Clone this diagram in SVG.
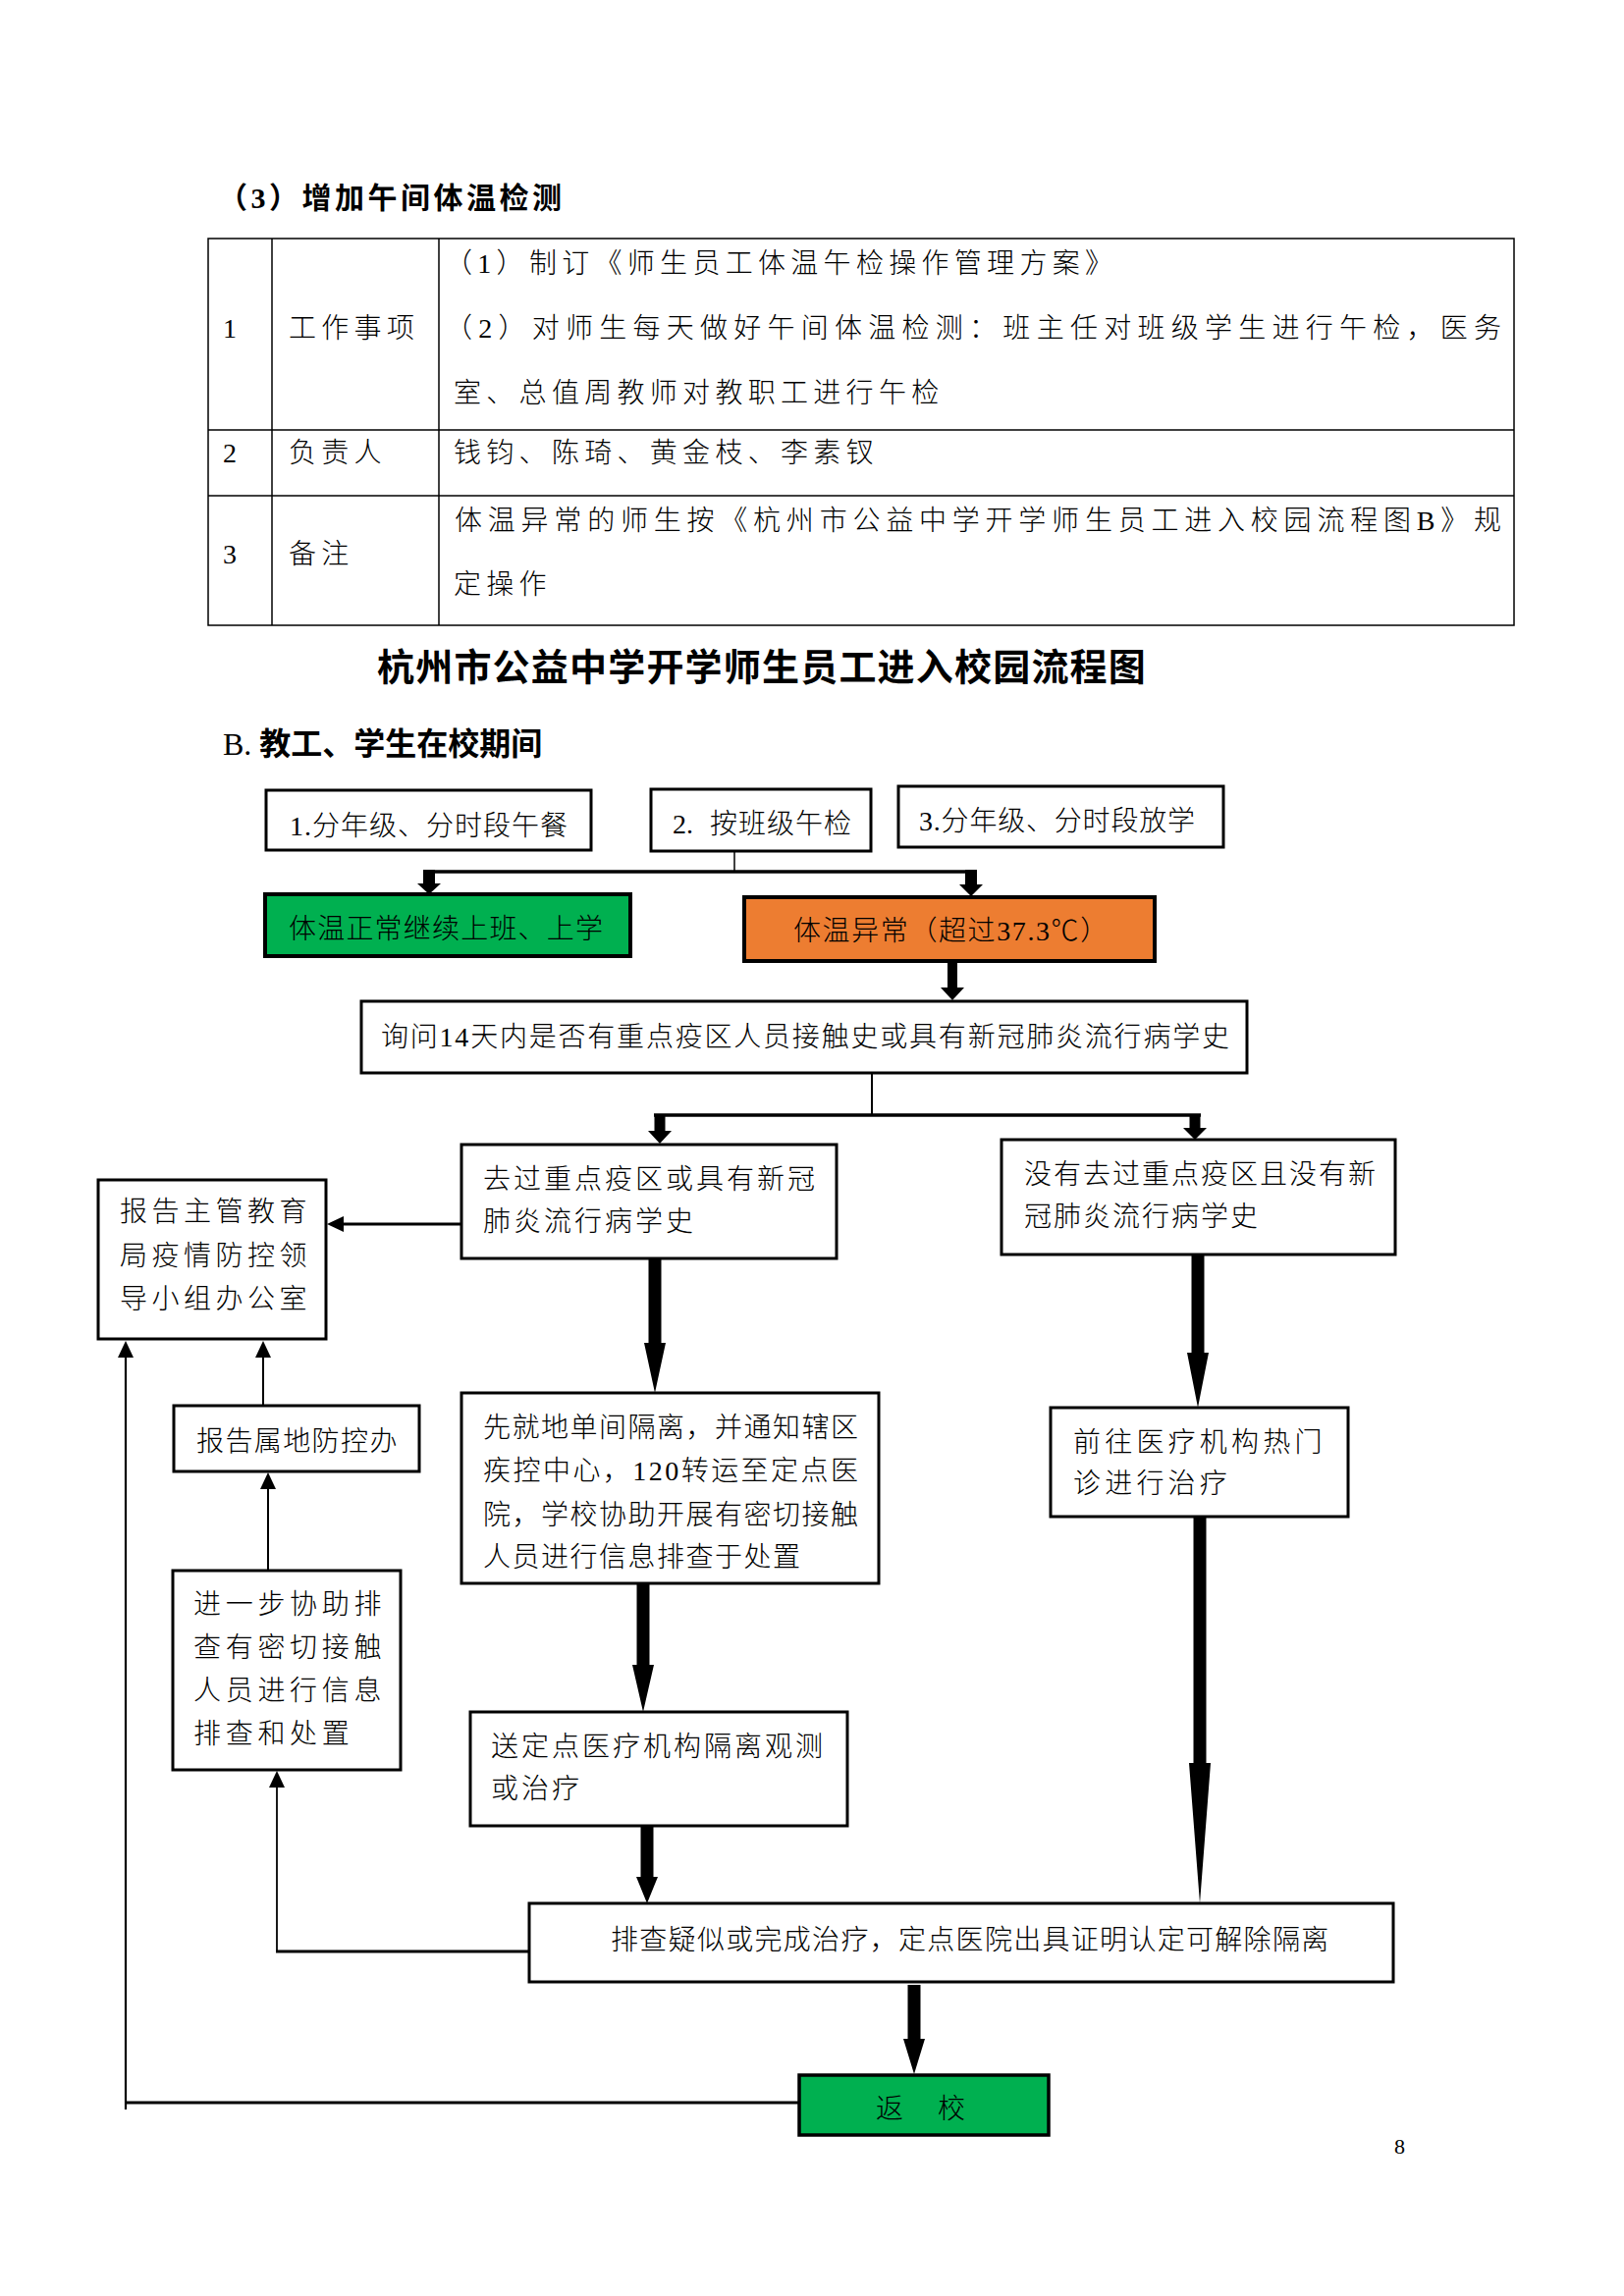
<svg xmlns="http://www.w3.org/2000/svg" width="1654" height="2339" viewBox="0 0 1654 2339">
<style>
.t{font-family:"Liberation Serif","Noto Sans CJK SC",serif;font-size:28px;font-weight:300;fill:#000}
.tb{font-family:"Liberation Serif","Noto Sans CJK SC",serif;font-size:28px;font-weight:300;fill:#000;letter-spacing:5.3px}
.h{font-family:"Liberation Serif","Noto Sans CJK SC",serif;font-weight:bold;fill:#000}
.box{fill:#fff;stroke:#000;stroke-width:3}
.ln{stroke:#000;fill:none}
.ah{fill:#000;stroke:none}
.grid{stroke:#000;stroke-width:1.5;fill:none}
</style>
<rect x="0" y="0" width="1654" height="2339" fill="#fff"/>

<text class="h" x="222" y="212" font-size="30" letter-spacing="3.5">（3）增加午间体温检测</text>

<g id="table">
<rect class="grid" x="212" y="243" width="1330" height="394"/>
<line class="grid" x1="212" y1="438" x2="1542" y2="438"/>
<line class="grid" x1="212" y1="505" x2="1542" y2="505"/>
<line class="grid" x1="277" y1="243" x2="277" y2="637"/>
<line class="grid" x1="447" y1="243" x2="447" y2="637"/>
<text class="tb" x="227" y="344">1</text>
<text class="tb" x="294" y="344">工作事项</text>
<text class="tb" x="453" y="278" letter-spacing="5.8">（1）制订《师生员工体温午检操作管理方案》</text>
<text class="t" x="453" y="344" textLength="1076" lengthAdjust="spacing">（2）对师生每天做好午间体温检测：班主任对班级学生进行午检，医务</text>
<text class="tb" x="462" y="410">室、总值周教师对教职工进行午检</text>
<text class="tb" x="227" y="471">2</text>
<text class="tb" x="294" y="471">负责人</text>
<text class="tb" x="462" y="471">钱钧、陈琦、黄金枝、李素钗</text>
<text class="tb" x="227" y="574">3</text>
<text class="tb" x="294" y="574">备注</text>
<text class="t" x="463" y="540" textLength="1066" lengthAdjust="spacing">体温异常的师生按《杭州市公益中学开学师生员工进入校园流程图B》规</text>
<text class="tb" x="462" y="605">定操作</text>
</g>

<text class="h" x="384" y="693" font-size="38" letter-spacing="1.2">杭州市公益中学开学师生员工进入校园流程图</text>
<text class="h" x="227" y="769" font-size="32"><tspan font-weight="normal">B. </tspan>教工、学生在校期间</text>

<g id="connectors">
<line class="ln" x1="748" y1="867" x2="748" y2="888" stroke-width="1.5"/>
<line class="ln" x1="431" y1="888" x2="995" y2="888" stroke-width="3.5"/>
<polygon class="ah" points="431,886 443,886 443,900 449,900 437,911 425,900 431,900"/>
<polygon class="ah" points="983,886 995,886 995,901 1001,901 989,913 977,901 983,901"/>
<polygon class="ah" points="965,979 975,979 975,1006 982,1006 970,1019 958,1006 965,1006"/>
<line class="ln" x1="888" y1="1093" x2="888" y2="1136" stroke-width="2"/>
<line class="ln" x1="666" y1="1136" x2="1223" y2="1136" stroke-width="3.5"/>
<polygon class="ah" points="666.5,1135 677.5,1135 677.5,1152 684,1152 672,1165 660,1152 666.5,1152"/>
<polygon class="ah" points="1211.5,1135 1222.5,1135 1222.5,1149 1229,1149 1217,1161 1205,1149 1211.5,1149"/>
<line class="ln" x1="470" y1="1247" x2="348" y2="1247" stroke-width="3"/>
<polygon class="ah" points="333,1247 350,1239 350,1255"/>
<polygon class="ah" points="660.5,1282 673.5,1282 673.5,1368 678,1368 667,1419 656,1368 660.5,1368"/>
<polygon class="ah" points="1213.5,1278 1226.5,1278 1226.5,1378 1231,1378 1220,1434 1209,1378 1213.5,1378"/>
<line class="ln" x1="268" y1="1432" x2="268" y2="1381" stroke-width="2"/>
<polygon class="ah" points="268,1366 260,1383 276,1383"/>
<line class="ln" x1="273" y1="1600" x2="273" y2="1515" stroke-width="2"/>
<polygon class="ah" points="273,1500 265,1517 281,1517"/>
<polygon class="ah" points="648.5,1613 661.5,1613 661.5,1696 666,1696 655,1744 644,1696 648.5,1696"/>
<polygon class="ah" points="652.5,1860 665.5,1860 665.5,1912 670,1912 659,1939 648,1912 652.5,1912"/>
<polygon class="ah" points="1215.5,1545 1228.5,1545 1228.5,1796 1233,1796 1222,1939 1211,1796 1215.5,1796"/>
<line class="ln" x1="539" y1="1988" x2="281" y2="1988" stroke-width="3"/>
<line class="ln" x1="282" y1="1989" x2="282" y2="1819" stroke-width="1.8"/>
<polygon class="ah" points="282,1804 274,1821 290,1821"/>
<polygon class="ah" points="924.5,2022 937.5,2022 937.5,2077 942,2077 931,2113 920,2077 924.5,2077"/>
<line class="ln" x1="814" y1="2142" x2="127" y2="2142" stroke-width="3"/>
<line class="ln" x1="128" y1="2149" x2="128" y2="1381" stroke-width="2.2"/>
<polygon class="ah" points="128,1366 120,1383 136,1383"/>
</g>

<g id="n1"><rect class="box" x="271" y="805" width="331" height="61"/>
<text class="t" x="295" y="851" letter-spacing="1">1.分年级、分时段午餐</text></g>
<g id="n2"><rect class="box" x="663" y="804" width="224" height="63"/>
<text class="t" x="685" y="849">2. <tspan x="723" letter-spacing="1">按班级午检</tspan></text></g>
<g id="n3"><rect class="box" x="915" y="801" width="331" height="62"/>
<text class="t" x="936" y="846" letter-spacing="0.8">3.分年级、分时段放学</text></g>
<g id="n4"><rect x="270" y="911" width="372" height="63" fill="#00B050" stroke="#000" stroke-width="4"/>
<text class="t" x="294" y="956" letter-spacing="1.2">体温正常继续上班、上学</text></g>
<g id="n5"><rect x="758" y="914" width="418" height="65" fill="#ED7D31" stroke="#000" stroke-width="4"/>
<text class="t" x="808" y="958" letter-spacing="1.6">体温异常（超过37.3℃）</text></g>
<g id="n6"><rect class="box" x="368" y="1020" width="902" height="73"/>
<text class="t" x="388" y="1066" textLength="864" lengthAdjust="spacing">询问14天内是否有重点疫区人员接触史或具有新冠肺炎流行病学史</text></g>
<g id="n7"><rect class="box" x="470" y="1166" width="382" height="116"/>
<text class="t" x="492" y="1211" letter-spacing="3">去过重点疫区或具有新冠</text>
<text class="t" x="492" y="1254" letter-spacing="3">肺炎流行病学史</text></g>
<g id="n8"><rect class="box" x="1020" y="1161" width="401" height="117"/>
<text class="t" x="1043" y="1206" letter-spacing="2">没有去过重点疫区且没有新</text>
<text class="t" x="1043" y="1249" letter-spacing="2">冠肺炎流行病学史</text></g>
<g id="n9"><rect class="box" x="100" y="1202" width="232" height="162"/>
<text class="t" x="122" y="1244" letter-spacing="4.5">报告主管教育</text>
<text class="t" x="122" y="1289" letter-spacing="4.5">局疫情防控领</text>
<text class="t" x="122" y="1333" letter-spacing="4.5">导小组办公室</text></g>
<g id="n10"><rect class="box" x="470" y="1419" width="425" height="194"/>
<text class="t" x="492" y="1464" textLength="382" lengthAdjust="spacing">先就地单间隔离，并通知辖区</text>
<text class="t" x="492" y="1508" textLength="382" lengthAdjust="spacing">疾控中心，120转运至定点医</text>
<text class="t" x="492" y="1553" textLength="382" lengthAdjust="spacing">院，学校协助开展有密切接触</text>
<text class="t" x="492" y="1596" letter-spacing="1.5">人员进行信息排查于处置</text></g>
<g id="n11"><rect class="box" x="1070" y="1434" width="303" height="111"/>
<text class="t" x="1093" y="1479" letter-spacing="4.2">前往医疗机构热门</text>
<text class="t" x="1093" y="1521" letter-spacing="4.2">诊进行治疗</text></g>
<g id="n12"><rect class="box" x="177" y="1432" width="250" height="67"/>
<text class="t" x="200" y="1478" letter-spacing="1.4">报告属地防控办</text></g>
<g id="n13"><rect class="box" x="176" y="1600" width="232" height="203"/>
<text class="t" x="197" y="1644" letter-spacing="4.7">进一步协助排</text>
<text class="t" x="197" y="1688" letter-spacing="4.7">查有密切接触</text>
<text class="t" x="197" y="1732" letter-spacing="4.7">人员进行信息</text>
<text class="t" x="197" y="1776" letter-spacing="4.7">排查和处置</text></g>
<g id="n14"><rect class="box" x="479" y="1744" width="384" height="116"/>
<text class="t" x="500" y="1789" letter-spacing="3">送定点医疗机构隔离观测</text>
<text class="t" x="500" y="1832" letter-spacing="3">或治疗</text></g>
<g id="n15"><rect class="box" x="539" y="1939" width="880" height="80"/>
<text class="t" x="622" y="1986" letter-spacing="1.3">排查疑似或完成治疗，定点医院出具证明认定可解除隔离</text></g>
<g id="n16"><rect x="814" y="2114" width="254" height="61" fill="#00B050" stroke="#000" stroke-width="3.5"/>
<text class="t" x="892" y="2158">返<tspan x="955">校</tspan></text></g>

<text x="1420" y="2194" font-family="Liberation Serif, serif" font-size="22" fill="#000">8</text>
</svg>
